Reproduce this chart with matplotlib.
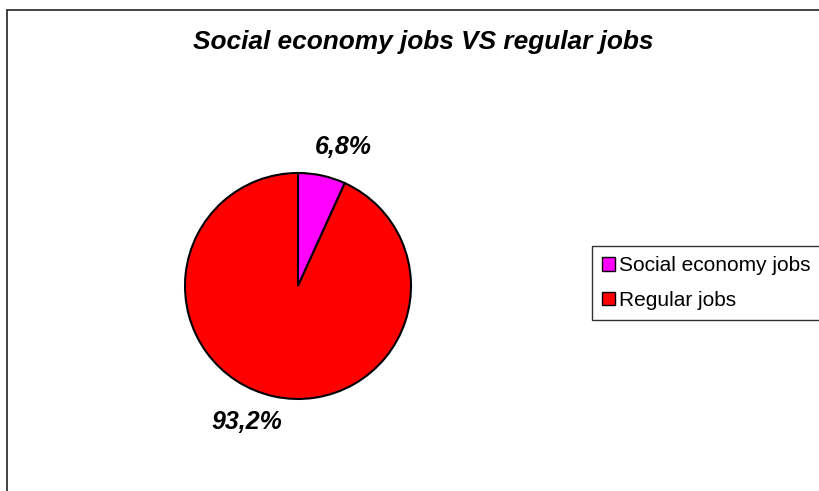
import matplotlib
matplotlib.use("Agg")
import matplotlib.pyplot as plt
from matplotlib.patches import Rectangle

labels = ['Social economy jobs', 'Regular jobs']
values = [6.8, 93.2]
colors = ['#ff00ff', '#ff0000']
# small nudges of the percent labels (Excel places them a bit differently)
label_nudge = [(0.13, -0.02), (-0.18, 0.05)]

plt.rcParams['font.family'] = ['Liberation Sans', 'DejaVu Sans']

fig = plt.figure(figsize=(8.2, 4.91), dpi=100)

# chart area border (cut off at right/bottom like the original)
fig.add_artist(Rectangle((7 / 820, -0.1), 1.2, 1.1 - 10 / 491, transform=fig.transFigure,
                         fill=False, edgecolor='#222222', linewidth=1.2, clip_on=False))

fig.text(0.516, 1 - 42 / 491, 'Social economy jobs VS regular jobs', ha='center', va='center',
         fontsize=18.9, fontweight='bold', fontstyle='italic')

ax = fig.add_axes([0.2256, 0.1874, 0.2756, 0.4603])
wedges, texts, autotexts = ax.pie(values, colors=colors, startangle=90, counterclock=False,
                                  autopct=lambda p: ('%.1f%%' % p).replace('.', ','),
                                  pctdistance=1.28,
                                  wedgeprops=dict(edgecolor='black', linewidth=1.5))
for t, (dx, dy) in zip(autotexts, label_nudge):
    x, y = t.get_position()
    t.set_position((x + dx, y + dy))
    t.set_fontsize(18)
    t.set_fontweight('bold')
    t.set_fontstyle('italic')
ax.set_xlim(-1, 1)
ax.set_ylim(-1, 1)
ax.set_aspect('equal')

leg = fig.legend(wedges, labels, loc='upper left', bbox_to_anchor=(592 / 820, 1 - 246 / 491),
                 fontsize=15, frameon=True, fancybox=False, borderaxespad=0,
                 handlelength=0.6, handleheight=0.6, handletextpad=0.2,
                 labelspacing=0.75, borderpad=0.5)
leg.get_frame().set_edgecolor('black')
leg.get_frame().set_linewidth(1)
for h in leg.legend_handles:
    h.set_edgecolor('black')
    h.set_linewidth(1)

fig.savefig('out.png', dpi=100)
